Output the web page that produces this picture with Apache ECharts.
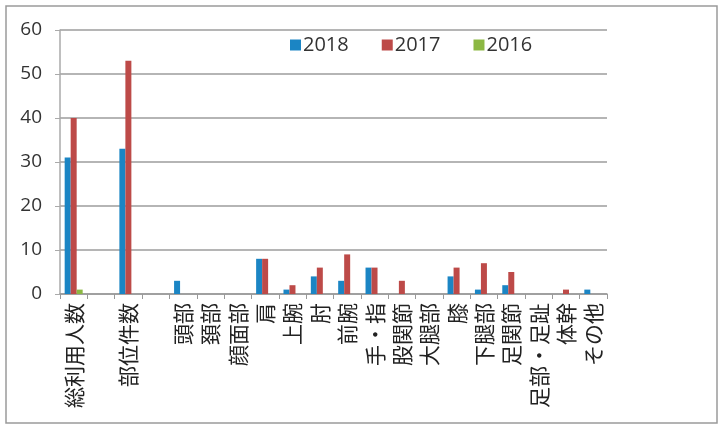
<!DOCTYPE html>
<html>
<head>
<meta charset="utf-8">
<script src="https://cdn.jsdelivr.net/npm/echarts@6/dist/echarts.min.js"></script>
<style>
  html, body { margin: 0; padding: 0; background: #fff; }
  #chart { width: 722px; height: 428px; }
</style>
</head>
<body>
<div id="chart"></div>
<script>
// categories (the two blank ones are spacer columns in the original sheet)
var categories = ['総利用人数', '', '部位件数', '', '頭部', '頚部', '顔面部', '肩', '上腕', '肘', '前腕', '手・指', '股関節', '大腿部', '膝', '下腿部', '足関節', '足部・足趾', '体幹', 'その他']
var data2018 = [31, 0, 33, 0, 3, 0, 0, 8, 1, 4, 3, 6, 0, 0, 4, 1, 2, 0, 0, 1]
var data2017 = [40, 0, 53, 0, 0, 0, 0, 8, 2, 6, 9, 6, 3, 0, 6, 7, 5, 0, 1, 0]
var data2016 = [1, 0, 0, 0, 0, 0, 0, 0, 0, 0, 0, 0, 0, 0, 0, 0, 0, 0, 0, 0]
var seriesNames = ['2018', '2017', '2016']
var yTicks = [0, 10, 20, 30, 40, 50, 60]

var font = '"Noto Sans CJK JP", "Noto Sans", sans-serif'
var colors = ['#1b85c4', '#bd4a48', '#8cb843']

var chart = echarts.init(document.getElementById('chart'))

function bar (name, data, color) {
  return {
    name: name,
    type: 'bar',
    data: data,
    barWidth: 6,
    barGap: '0%',
    itemStyle: { color: color }
  }
}

chart.setOption({
  animation: false,
  color: colors,
  textStyle: { fontFamily: font },
  graphic: [{
    type: 'rect',
    shape: { x: 6, y: 6, width: 711, height: 417 },
    style: { fill: 'none', stroke: '#9a9a9a', lineWidth: 1.5 },
    silent: true
  }],
  legend: {
    data: seriesNames,
    top: 30,
    left: 285,
    itemWidth: 11,
    itemHeight: 11,
    itemGap: 33,
    icon: 'rect',
    textStyle: { fontSize: 20, color: '#333', fontFamily: '"Open Sans", "Noto Sans", sans-serif', padding: [0, 0, 0, -3] }
  },
  grid: {
    left: 60,
    right: 115,
    top: 30,
    bottom: 134
  },
  xAxis: {
    type: 'category',
    data: categories,
    axisLine: { lineStyle: { color: '#999', width: 1.5 } },
    axisTick: { show: true, length: 5, lineStyle: { color: '#999' } },
    axisLabel: {
      rotate: 90,
      interval: 0,
      fontSize: 21,
      color: '#222',
      margin: 9
    }
  },
  yAxis: {
    type: 'value',
    min: yTicks[0],
    max: yTicks[yTicks.length - 1],
    interval: 10,
    axisLine: { show: true, lineStyle: { color: '#aaa', width: 1.5 } },
    axisTick: { show: true, length: 5, lineStyle: { color: '#aaa' } },
    axisLabel: { fontSize: 19, color: '#333', margin: 18, fontFamily: '"Open Sans", "Noto Sans", sans-serif' },
    splitLine: { lineStyle: { color: '#9c9c9c', width: 1.5 } }
  },
  series: [
    bar(seriesNames[0], data2018, colors[0]),
    bar(seriesNames[1], data2017, colors[1]),
    bar(seriesNames[2], data2016, colors[2])
  ]
})
</script>
</body>
</html>
